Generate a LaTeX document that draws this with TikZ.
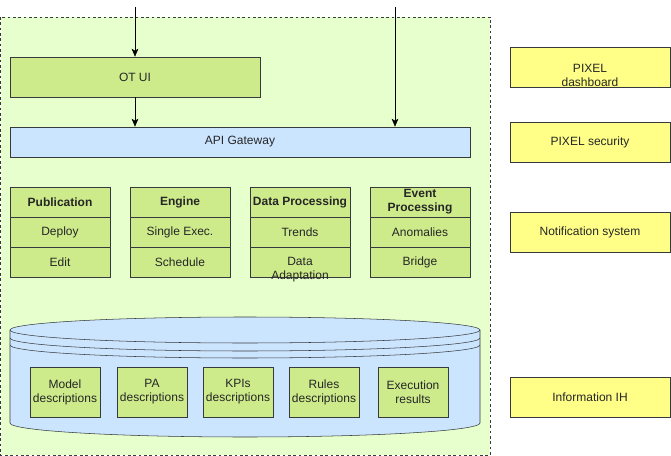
\documentclass[tikz,border=0pt]{standalone}
\usepackage{fontspec}
\setmainfont{Liberation Sans}
\usetikzlibrary{arrows.meta}
\definecolor{contgreen}{HTML}{E6FFCC}
\definecolor{modgreen}{HTML}{CDEB8B}
\definecolor{gwblue}{HTML}{CCE5FF}
\definecolor{extyellow}{HTML}{FFFF88}
\definecolor{edge}{HTML}{36393D}
\newdimen\px \px=0.75pt

\begin{document}
\begin{tikzpicture}[x=0.75pt, y=-0.75pt, >={Stealth[length=6pt, width=5pt, inset=1.5pt]},
    font=\fontsize{9}{10.5}\selectfont, text=black!85,
    box/.style={draw=edge, inner sep=0pt, align=center},
    cell/.style={box, fill=modgreen, minimum width=100\px, minimum height=30\px},
    store/.style={box, fill=modgreen, minimum width=70\px, minimum height=50\px},
    ext/.style={box, fill=extyellow, minimum width=160\px, minimum height=40\px}]
			\useasboundingbox (0,0) rectangle (671,456);
			
			%draw the dashed container
			\draw[edge, dash pattern=on 2pt off 2pt, fill=contgreen] (0.5,17) rectangle (490,455);
			
			%ui and gateway
			\node[box, fill=modgreen, minimum width=250\px, minimum height=40\px] (otui) at (135,77) {OT UI};
			\node[box, fill=gwblue, minimum width=460\px, minimum height=30\px] (api) at (240,142) {API Gateway};
			
			%incoming arrows
			\coordinate (in1) at (135,7);
			\coordinate (in2) at (395,7);
			\draw[->] (in1) -- (otui);
			\draw[->] (otui.south) -- (otui.south |- api.north);
			\draw[->] (in2) -- (in2 |- api.north);
			
			%draw the modules
			\foreach \x / \n / \h / \a / \b in {60/pub/Publication/Deploy/Edit,
				180/eng/Engine/Single Exec./Schedule,
				300/dp/Data Processing/Trends/{},
				420/ep/{Event\\Processing}/Anomalies/Bridge}
			{
				\node[cell, font=\fontsize{9}{10.5}\selectfont\bfseries] (\n-h) at (\x,202) {\h};
				\node[cell] (\n-a) at (\x,232) {\a};
				\node[cell] (\n-b) at (\x,262) {\b};
			}
			\node[align=center, inner sep=0pt] (dp-txt) at (300,269.5) {Data\\Adaptation};
			
			%draw the data store
			\draw[edge, fill=gwblue] (10,330) -- (10,423) arc[start angle=180, end angle=0, x radius=235, y radius=14]
				-- (480,330) arc[start angle=0, end angle=-180, x radius=235, y radius=13] -- cycle;
			\foreach \y in {330,338,345}
			\draw[edge] (10,\y) arc[start angle=180, end angle=0, x radius=235, y radius=13];
			
			%stored items
			\foreach \x / \n / \t in {65/model/{Model\\descriptions}, 152/pa/{PA\\descriptions},
				238/kpi/{KPIs\\descriptions}, 324/rule/{Rules\\descriptions}, 413/exec/{Execution\\results}}
			\node[store] (\n) at (\x,392) {\t};
			
			%external systems
			\node[ext] (dash) at (590,67) {};
			\node[align=center, inner sep=0pt] (dash-txt) at (590,75) {PIXEL\\dashboard};
			\node[ext] (sec) at (590,142) {PIXEL security};
			\node[ext] (notif) at (590,232) {Notification system};
			\node[ext] (info) at (590,397) {Information IH};
		\end{tikzpicture}
\end{document}
